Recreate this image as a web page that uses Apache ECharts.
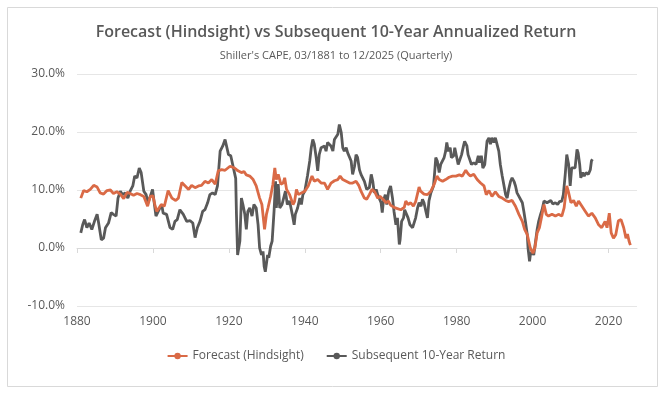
<!DOCTYPE html>
<html>
<head>
<meta charset="utf-8">
<script src="https://cdn.jsdelivr.net/npm/echarts@6/dist/echarts.min.js"></script>
<style>
html,body{margin:0;padding:0;background:#fff;}
#chart{width:672px;height:394px;}
</style>
</head>
<body>
<div id="chart"></div>
<script>
const titleText = "Forecast (Hindsight) vs Subsequent 10-Year Annualized Return";
const subtitleText = "Shiller's CAPE, 03/1881 to 12/2025 (Quarterly)";
const seriesNames = ["Forecast (Hindsight)", "Subsequent 10-Year Return"];
const xTickLabels = [1880, 1900, 1920, 1940, 1960, 1980, 2000, 2020];
const yTickLabels = [-10, 0, 10, 20, 30];

const forecastYears = [
1881.0,1881.75,1882.6,1883.5,1884.4,1885.3,1886.1,1887.0,1887.9,1888.8,1889.6,1890.5,1891.4,1892.3,1893.2,1894.0,1894.9,1895.8,1896.7,1897.6,1898.6,1899.3,1900.0,1900.5,1901.0,1901.3,1902.2,1903.0,1904.0,1905.0,1906.0,1906.7,1907.6,1908.5,1909.4,1910.2,1911.1,1912.0,1912.8,1913.7,1914.6,1915.5,1916.4,1917.2,1918.1,1919.0,1920.3,1920.7,1921.5,1922.4,1923.3,1924.0,1924.6,1925.5,1926.4,1927.2,1928.1,1928.7,1929.4,1929.9,1930.3,1931.0,1931.6,1932.1,1932.5,1933.0,1933.7,1934.3,1934.7,1935.2,1936.0,1936.9,1937.3,1937.8,1938.3,1939.1,1940.0,1940.9,1941.2,1941.9,1942.5,1943.4,1944.3,1945.2,1946.0,1946.5,1946.9,1947.8,1948.7,1949.3,1950.0,1950.9,1951.8,1952.6,1953.5,1954.2,1954.8,1955.7,1956.3,1957.0,1957.7,1958.4,1959.2,1959.8,1960.6,1961.4,1962.0,1962.6,1963.5,1964.4,1965.3,1966.2,1966.6,1967.2,1967.9,1968.6,1969.2,1970.1,1970.5,1971.4,1972.3,1973.2,1974.1,1974.8,1975.4,1976.3,1977.1,1978.0,1978.9,1979.8,1980.7,1981.5,1982.4,1983.0,1983.6,1984.5,1985.4,1986.3,1987.2,1987.8,1988.5,1989.3,1990.2,1991.1,1992.0,1992.9,1993.7,1994.6,1995.5,1996.4,1997.3,1997.9,1998.6,1999.4,2000.1,2000.6,2001.2,2001.8,2002.5,2003.0,2003.6,2004.2,2005.1,2006.0,2006.8,2007.7,2008.3,2009.0,2009.4,2010.1,2010.8,2011.5,2012.1,2013.0,2013.9,2014.7,2015.6,2016.5,2017.4,2018.2,2019.1,2019.6,2020.2,2020.7,2021.3,2021.9,2022.6,2023.3,2024.0,2024.6,2025.0,2025.4,2025.75
];
const forecastValues = [
8.6,9.9,9.7,10.1,10.8,10.5,9.5,9.3,9.9,10.0,9.4,9.7,9.3,8.5,9.6,9.4,9.1,9.4,9.2,8.9,7.2,8.9,9.0,7.5,6.3,6.0,7.5,7.2,9.9,8.6,8.2,8.6,11.3,10.7,10.1,10.8,10.4,10.7,10.8,11.5,11.2,11.8,11.0,13.3,13.5,13.4,14.1,14.2,13.8,13.3,13.0,13.2,12.6,12.4,11.8,10.7,8.6,7.5,3.2,5.8,6.9,8.9,11.0,13.8,11.8,12.7,11.0,11.2,12.1,10.1,9.2,7.5,8.0,10.1,9.2,9.5,9.8,10.7,11.2,12.4,11.5,11.8,11.2,11.2,10.1,9.8,11.2,11.6,11.8,12.4,11.8,11.5,11.2,11.2,11.5,10.8,9.8,8.6,8.4,9.2,10.1,9.7,8.6,8.9,8.4,7.8,8.1,7.4,7.0,6.8,6.6,7.0,8.1,7.5,7.8,7.2,8.0,10.5,9.8,9.3,9.2,9.8,11.0,12.4,11.8,11.5,11.8,12.2,12.4,12.4,12.6,12.4,13.4,12.8,12.4,12.7,11.8,11.2,10.7,9.2,9.9,8.9,9.7,8.9,8.6,8.2,8.0,8.2,7.2,5.8,4.6,3.2,2.3,0.0,-0.9,0.0,2.6,3.5,5.8,7.5,5.8,5.5,5.8,5.5,5.8,5.5,6.9,10.7,9.8,7.8,8.2,7.2,8.1,7.2,6.3,5.5,6.0,5.2,4.0,3.5,4.6,3.5,6.0,2.6,1.7,2.3,4.7,4.9,3.5,1.7,2.4,1.2,0.5
];

const returnYears = [
1881.0,1881.5,1882.0,1882.6,1883.2,1883.9,1884.6,1885.3,1885.7,1886.4,1887.0,1887.5,1888.3,1889.0,1889.6,1890.3,1890.8,1891.4,1892.0,1892.7,1893.4,1894.0,1894.7,1895.2,1895.8,1896.4,1896.9,1897.6,1898.2,1898.7,1899.3,1899.9,1900.3,1900.8,1901.4,1902.3,1902.7,1903.6,1904.5,1905.2,1905.8,1906.4,1907.1,1908.0,1908.9,1909.8,1910.5,1911.1,1911.7,1912.4,1913.1,1913.7,1914.4,1915.0,1915.7,1916.4,1917.0,1917.7,1918.4,1919.0,1919.5,1919.9,1920.5,1921.0,1921.5,1921.8,1922.0,1922.3,1922.9,1923.3,1923.7,1924.2,1924.6,1925.0,1925.5,1926.1,1926.6,1927.2,1927.7,1928.1,1928.6,1929.0,1929.3,1929.6,1930.2,1930.5,1931.0,1931.4,1931.9,1932.3,1932.5,1933.0,1933.4,1934.0,1934.5,1934.9,1935.4,1936.0,1936.7,1937.2,1937.5,1938.1,1938.7,1939.1,1939.5,1940.0,1940.7,1941.3,1941.7,1942.1,1942.5,1943.0,1943.4,1943.8,1944.3,1944.8,1945.2,1945.6,1946.0,1946.5,1946.9,1947.4,1947.8,1948.2,1948.7,1949.1,1949.6,1950.0,1950.4,1950.9,1951.3,1951.7,1952.2,1952.6,1953.1,1953.5,1953.9,1954.4,1954.8,1955.3,1955.7,1956.3,1957.0,1957.5,1957.9,1958.3,1958.8,1959.2,1959.7,1960.1,1960.4,1960.7,1961.2,1961.6,1962.1,1962.6,1963.1,1963.5,1964.0,1964.4,1964.9,1965.1,1965.5,1966.0,1966.3,1966.8,1967.2,1967.7,1968.4,1968.8,1969.2,1969.7,1970.1,1970.6,1971.0,1971.4,1971.9,1972.3,1972.7,1973.2,1973.9,1974.2,1974.5,1974.9,1975.4,1975.8,1976.3,1976.7,1977.1,1977.4,1977.8,1978.3,1978.6,1979.2,1979.5,1980.0,1980.4,1980.9,1981.3,1981.8,1982.1,1982.7,1983.0,1983.4,1983.9,1984.5,1985.1,1985.7,1986.0,1986.5,1986.9,1987.4,1988.0,1988.5,1988.9,1989.3,1989.8,1990.2,1990.7,1991.1,1991.5,1992.0,1992.4,1992.9,1993.3,1993.7,1994.2,1994.6,1995.1,1995.5,1995.9,1996.4,1996.8,1997.3,1997.7,1998.1,1998.6,1998.8,1999.2,1999.4,1999.9,2000.3,2000.8,2001.2,2001.6,2002.1,2002.5,2003.0,2003.4,2003.8,2004.2,2004.8,2005.3,2006.0,2006.6,2007.1,2007.7,2008.1,2008.6,2009.0,2009.5,2009.9,2010.3,2010.8,2011.2,2011.7,2012.0,2012.4,2012.7,2013.2,2013.6,2014.1,2014.7,2015.2,2015.5,2015.75
];
const returnValues = [
2.6,4.0,4.9,3.5,4.3,3.2,4.6,5.8,4.3,1.4,1.7,3.5,4.3,6.1,5.8,5.5,8.6,9.8,9.2,9.5,8.6,9.8,10.7,12.4,12.1,13.8,13.0,9.8,9.2,7.8,8.9,10.1,8.0,5.5,6.3,7.5,6.0,5.8,3.5,3.2,4.6,4.9,6.6,5.8,4.6,4.7,4.3,1.8,3.5,4.6,6.3,6.6,7.8,9.2,9.5,9.2,10.7,16.7,17.6,18.7,19.0,16.1,15.9,14.4,14.4,12.0,5.8,-1.2,1.2,8.6,7.5,5.8,3.2,6.3,6.9,5.5,7.5,6.9,4.0,0.0,-1.2,-0.6,-3.2,-4.1,-1.2,-1.7,0.3,1.2,6.3,11.5,6.9,11.0,6.9,7.5,7.5,9.8,7.5,8.1,5.8,4.0,5.8,6.9,8.6,7.5,9.2,9.8,12.4,15.0,17.3,18.7,17.9,15.6,13.3,16.1,17.3,17.0,17.6,16.7,18.2,18.4,17.6,16.7,18.7,18.4,19.6,21.3,19.9,17.3,16.7,17.3,16.4,16.7,15.0,12.7,14.1,16.1,15.6,13.5,12.7,13.0,11.5,10.1,10.4,12.7,11.5,9.5,10.1,9.2,8.9,7.8,6.1,8.1,9.2,7.5,9.8,10.7,8.6,6.3,4.0,5.2,0.6,1.4,4.6,5.2,6.6,6.9,5.2,4.0,3.5,3.7,5.2,6.9,7.8,7.2,8.4,7.8,6.3,5.2,8.1,9.5,10.7,13.0,15.6,15.0,13.0,14.4,14.7,15.6,16.7,18.2,16.7,17.3,15.6,15.9,17.3,17.6,14.4,14.1,16.1,17.6,18.4,17.6,16.1,15.9,14.4,14.7,14.4,15.9,14.7,15.9,13.8,14.4,18.4,19.0,17.9,19.0,18.2,19.0,19.3,16.7,14.4,12.4,11.0,9.2,8.6,10.1,11.5,12.1,11.5,10.7,9.5,8.9,8.6,7.8,6.3,4.6,2.3,0.0,-2.3,-1.2,-0.6,-1.2,1.2,3.2,4.6,5.8,6.6,8.1,8.4,7.8,7.6,8.2,7.6,7.8,7.5,8.0,8.1,9.2,12.7,16.1,14.4,10.7,13.8,14.1,13.8,17.0,16.4,14.4,12.1,13.0,12.4,13.0,12.7,13.5,15.0,15.3
];

function pairs(xs, ys) { return xs.map((x, i) => [x, ys[i]]); }

const chart = echarts.init(document.getElementById('chart'), null, {renderer: 'canvas'});
const font = "'Open Sans', 'Noto Sans', sans-serif";
chart.setOption({
  animation: false,
  backgroundColor: '#ffffff',
  textStyle: {fontFamily: font},
  graphic: [{
    type: 'rect', shape: {x: 7.5, y: 7.5, width: 650, height: 379},
    style: {fill: 'none', stroke: '#d9d9d9', lineWidth: 1}, silent: true
  }],
  title: [
    {text: titleText, left: 'center', top: 19,
     textStyle: {fontFamily: font, fontSize: 16, fontWeight: 600, color: '#595959'}},
    {text: subtitleText, left: 'center', top: 45,
     textStyle: {fontFamily: font, fontSize: 11, fontWeight: 'normal', color: '#595959'}}
  ],
  legend: {
    data: seriesNames, bottom: 27, left: 'center', itemGap: 22, itemWidth: 20, itemHeight: 8,
    textStyle: {fontFamily: font, fontSize: 12, color: '#595959'}
  },
  grid: {left: 77, right: 35, top: 74, bottom: 88, containLabel: false},
  xAxis: {
    type: 'value', min: 1880, max: 2027.5, interval: 20,
    axisLine: {show: true, lineStyle: {color: '#d9d9d9', width: 1}},
    axisTick: {show: true, length: 5, customValues: xTickLabels, lineStyle: {color: '#d9d9d9'}},
    axisLabel: {customValues: xTickLabels, color: '#595959', fontSize: 12, margin: 10, fontFamily: font,
      formatter: v => String(v)},
    splitLine: {show: false}
  },
  yAxis: {
    type: 'value', min: -10, max: 30, interval: 10,
    axisLine: {show: false}, axisTick: {show: false},
    axisLabel: {color: '#595959', fontSize: 12, margin: 12, fontFamily: font,
      formatter: v => v.toFixed(1) + '%'},
    splitLine: {show: true, lineStyle: {color: '#e6e6e6', width: 1}}
  },
  series: [
    {name: seriesNames[0], type: 'line', data: pairs(forecastYears, forecastValues),
     showSymbol: false, symbol: 'circle', symbolSize: 6, color: '#DA6A46',
     lineStyle: {width: 2.8, color: '#DA6A46'}, z: 3},
    {name: seriesNames[1], type: 'line', data: pairs(returnYears, returnValues),
     showSymbol: false, symbol: 'circle', symbolSize: 6, color: '#595959',
     lineStyle: {width: 2.8, color: '#595959'}, z: 2}
  ]
});
</script>
</body>
</html>
